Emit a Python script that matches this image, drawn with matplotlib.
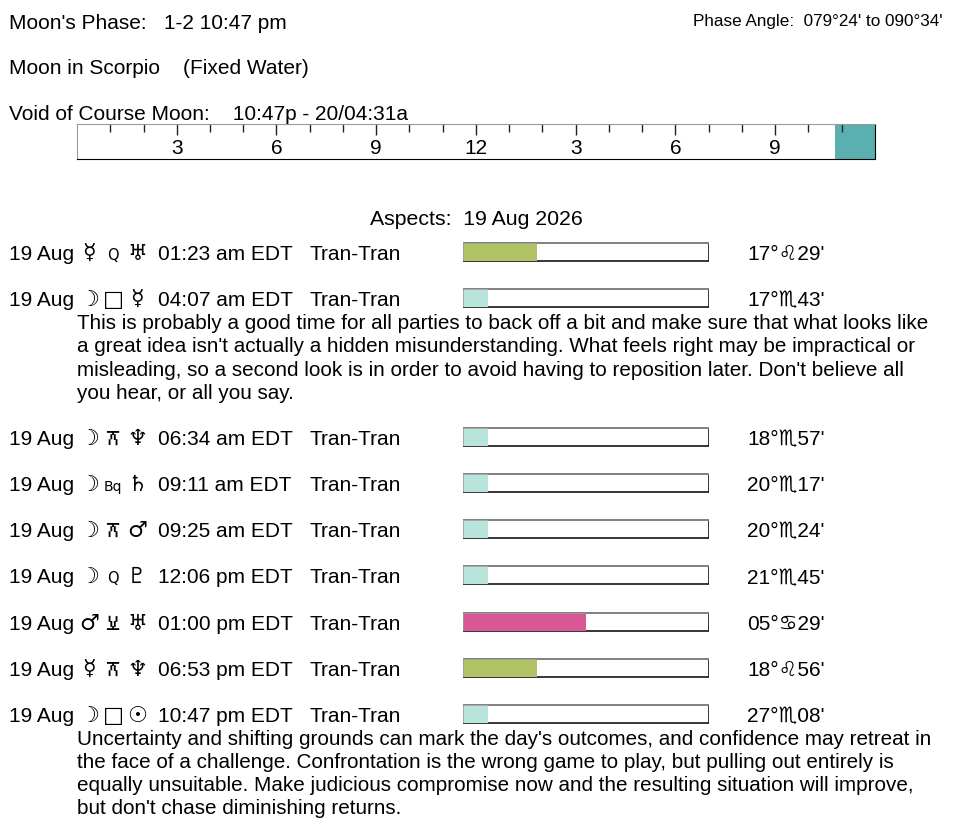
import numpy as np
import matplotlib
matplotlib.use("Agg")
import matplotlib.pyplot as plt
from matplotlib import font_manager
from matplotlib.ft2font import FT2Font

plt.rcParams['font.family'] = ['Liberation Sans', 'DejaVu Sans']

# header info
phase_text = "Moon's Phase:   1-2 10:47 pm"
sign_text = "Moon in Scorpio    (Fixed Water)"
voc_text = "Void of Course Moon:    10:47p - 20/04:31a"
angle_text = "Phase Angle:  079°24' to 090°34'"
title_text = "Aspects:  19 Aug 2026"

# void of course span, hours of the day
voc_start = 22 + 47 / 60
voc_end = 24.0
hour_ticks = [3, 6, 9, 12, 15, 18, 21]
hour_labels = ['3', '6', '9', '12', '3', '6', '9']

# aspect rows
dates = ['19 Aug'] * 9
planet1 = ['☿', '☽', '☽', '☽', '☽', '☽', '♂', '☿', '☽']
aspects = ['Q', '□', '⚻', 'Bq', '⚻', 'Q', '⚺', '⚻', '□']
planet2 = ['♅', '☿', '♆', '♄', '♂', '♇', '♅', '♆', '☉']
times = ['01:23 am EDT', '04:07 am EDT', '06:34 am EDT', '09:11 am EDT', '09:25 am EDT',
         '12:06 pm EDT', '01:00 pm EDT', '06:53 pm EDT', '10:47 pm EDT']
kinds = ['Tran-Tran'] * 9
strength = [3, 1, 1, 1, 1, 1, 5, 3, 1]   # out of 10
bar_cols = ['#b0c367', '#b8e4dc', '#b8e4dc', '#b8e4dc', '#b8e4dc', '#b8e4dc', '#d85894', '#b0c367', '#b8e4dc']
positions = ["17°♌29'", "17°♏43'", "18°♏57'", "20°♏17'", "20°♏24'", "21°♏45'", "05°♋29'", "18°♌56'", "27°♏08'"]
descriptions = {
    1: ["This is probably a good time for all parties to back off a bit and make sure that what looks like",
        "a great idea isn't actually a hidden misunderstanding. What feels right may be impractical or",
        "misleading, so a second look is in order to avoid having to reposition later. Don't believe all",
        "you hear, or all you say."],
    8: ["Uncertainty and shifting grounds can mark the day's outcomes, and confidence may retreat in",
        "the face of a challenge. Confrontation is the wrong game to play, but pulling out entirely is",
        "equally unsuitable. Make judicious compromise now and the resulting situation will improve,",
        "but don't chase diminishing returns."],
}


def find_family(ch):
    """Return an installed family that has a glyph for ch, or None."""
    for f in font_manager.fontManager.ttflist:
        try:
            if ord(ch) in FT2Font(f.fname).get_charmap():
                return f.name
        except Exception:
            pass
    return None


# outlines for aspect signs, used only if no installed font has them (glyph units, baseline 0)
glyph_shapes = {
    '⚻': [[(0, 14), (11, 14), (11, 6), (0, 6), (0, 14)], [(5.5, 6), (5.5, 0)]],
    '⚺': [[(0, 13), (5.5, 3), (11, 13)], [(0, 0), (11, 0)]],
}
glyph_family = {ch: find_family(ch) for ch in glyph_shapes}

W, H = 964, 824
fs = 15
fig = plt.figure(figsize=(W / 100, H / 100), dpi=100)
ax = fig.add_axes([0, 0, 1, 1])
ax.set_xlim(0, W)
ax.set_ylim(H, 0)
ax.axis('off')


def draw_aspect(ch, xc, base):
    if ch in glyph_shapes and glyph_family[ch] is None:
        for seg in glyph_shapes[ch]:
            xs = [xc - 5.5 + p[0] for p in seg]
            ys = [base - p[1] for p in seg]
            ax.plot(xs, ys, color='black', lw=1.1, solid_capstyle='butt')
        return
    fam = ['DejaVu Sans']
    if ch in glyph_family and glyph_family[ch]:
        fam = [glyph_family[ch], 'DejaVu Sans']
    size = {'Q': 10.5, 'Bq': 10, '□': 16, '⚻': 20, '⚺': 20}.get(ch, fs)
    ax.text(xc, base, ch, fontsize=size, va='baseline', ha='center', family=fam)


ax.text(9, 29, phase_text, fontsize=fs, va='baseline')
ax.text(9, 74, sign_text, fontsize=fs, va='baseline')
ax.text(9, 120, voc_text, fontsize=fs, va='baseline')
ax.text(943, 26, angle_text, fontsize=12.3, va='baseline', ha='right')
ax.text(476, 225, title_text, fontsize=15.3, va='baseline', ha='center')

# timeline
tl = fig.add_axes([77 / W, 1 - 159 / H, 798 / W, 35 / H])
tl.set_xlim(0, 24)
tl.set_ylim(0, 1)
tl.barh(0.5, voc_end - voc_start, left=voc_start, height=1, color='#5aafb0', zorder=1)
hrs = np.arange(1, 24)
short = [h for h in hrs if h % 3 != 0]
tl.vlines(short, 0.78, 1, color='#222222', lw=1, zorder=2)
tl.vlines(hour_ticks, 0.68, 1, color='#222222', lw=1, zorder=2)
for h, lab in zip(hour_ticks, hour_labels):
    tl.text(h, 0.14, lab, fontsize=fs, ha='center', va='baseline')
tl.set_xticks([])
tl.set_yticks([])
for s in ['top', 'left']:
    tl.spines[s].set_color('#9a9a9a')
for s in ['bottom', 'right']:
    tl.spines[s].set_color('black')

# layout of rows
row_pitch = 46.2
line_h = 23.1
row_y = []
y = 252
for i in range(len(dates)):
    row_y.append(y)
    y += row_pitch + line_h * len(descriptions.get(i, []))

for i, yy in enumerate(row_y):
    b = yy + 8
    ax.text(9, b, dates[i], fontsize=fs, va='baseline')
    ax.text(89, b, planet1[i], fontsize=16, va='baseline', ha='center', family='DejaVu Sans')
    draw_aspect(aspects[i], 113, b)
    ax.text(137, b, planet2[i], fontsize=16, va='baseline', ha='center', family='DejaVu Sans')
    ax.text(158, b, times[i], fontsize=fs, va='baseline')
    ax.text(310, b, kinds[i], fontsize=fs, va='baseline')
    ax.text(747, b, positions[i], fontsize=fs, va='baseline')
    for k, line in enumerate(descriptions.get(i, [])):
        ax.text(77, b + line_h * (k + 1), line, fontsize=14.9, va='baseline')

# strength bars
ry = np.array(row_y)
bx = fig.add_axes([463 / W, 0, 246 / W, 1])
bx.set_xlim(0, 10)
bx.set_ylim(H, 0)
bx.axis('off')
bx.barh(ry, [10] * len(ry), height=18, color='white', edgecolor='black', lw=1.1, zorder=1)
bx.barh(ry, strength, height=18, color=bar_cols, zorder=2)
bx.hlines(ry - 9, 0, 10, color='#9a9a9a', lw=1.1, zorder=3)
bx.vlines(np.zeros(len(ry)), ry - 9, ry + 9, color='#9a9a9a', lw=1.1, zorder=3)

fig.savefig('out.png', dpi=100, facecolor='white')
